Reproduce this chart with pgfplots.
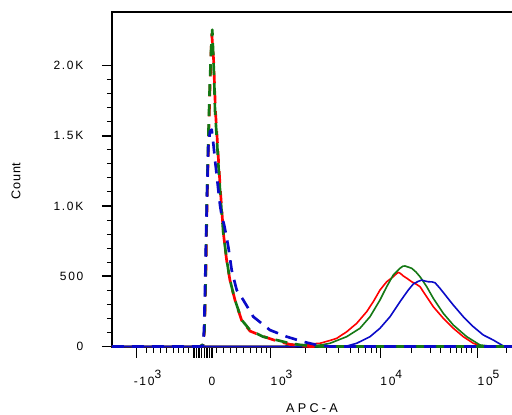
\documentclass[border=0pt]{standalone}
\usepackage{pgfplots}
\pgfplotsset{compat=1.18}
\usepackage{fontspec}
\setmainfont{Liberation Sans}
\newfontfamily\tickfont[LetterSpace=14]{Liberation Sans}
\newfontfamily\ylabfont[LetterSpace=6]{Liberation Sans}
\newfontfamily\xlabfont[LetterSpace=26]{Liberation Sans}
\definecolor{cred}{RGB}{255,0,0}
\definecolor{cgreen}{RGB}{20,120,20}
\definecolor{cblue}{RGB}{10,10,200}
\newcommand{\ex}[1]{\rlap{\raisebox{5.2pt}{#1}}}
\begin{document}
\begin{tikzpicture}
\useasboundingbox (-84pt,-50.625pt) rectangle (300pt,260.625pt);
\begin{axis}[
  x=0.75pt, y=0.105375pt,
  xmin=112, xmax=514, ymin=-7, ymax=2381,
  axis line style={line width=1pt},
  tick align=outside, xtick pos=bottom, ytick pos=left,
  major tick length=7.5pt, minor tick length=3.75pt,
  major tick style={line width=1.2pt, black},
  minor tick style={line width=0.7pt, black},
  xtick={136.7,194,196.5,199,201.5,204.5,207,209.5,212,270.7,380.5,477.7},
  xticklabels={-10\ex{3},,,,,0,,,,10\ex{3},10\ex{4},10\ex{5}},
  minor xtick={146.7,153,160,166.7,173,178,183,188,216.7,223,230,236.7,243,250,256.7,261.7,266,305,326.7,338,350,358,365,371,376,411.7,430,440,450,456.7,461.7,466.7,471,506},
  ytick={0,500,1000,1500,2000},
  yticklabels={0,500,1.0K,1.5K,2.0K},
  minor y tick num=4,
  ticklabel style={font=\tickfont\fontsize{9}{10}\selectfont},
  xticklabel style={anchor=base, xshift=5.6pt, yshift=-20.8pt},
  yticklabel style={anchor=east, xshift=-10.5pt},
  xlabel={APC-A}, ylabel={Count},
  xlabel style={at={(axis cs:312,-440)}, anchor=center, font=\xlabfont\fontsize{9.5}{11}\selectfont},
  ylabel style={at={(axis cs:16,1178)}, anchor=center, rotate=0, font=\ylabfont\fontsize{9.5}{11}\selectfont},
  dashedl/.style={line width=2pt, dash pattern=on 9pt off 6pt, line join=round},
  solidl/.style={line width=1.2pt, line join=round},
]
% solid (stained)
\addplot[solidl, cred] coordinates {(112,0)(295,0)(310,18)(320,23)(330,43)(336.7,58)(346.7,105)(356.7,165)(366.7,248)(373.3,319)(380,402)(386.7,461)(393.3,497)(396,515)(398.3,528)(400.5,520)(403.3,502)(407,485)(411.7,461)(416,445)(420,426)(426.7,354)(433.3,283)(443.3,201)(453.3,130)(463.3,70)(473.3,23)(483.3,0)(514,0)};
\addplot[solidl, cgreen] coordinates {(112,0)(285,0)(290,18)(300,10)(313,5)(322,12)(330,23)(346.7,70)(360,130)(370,212)(380,331)(386.7,426)(393.3,509)(400,557)(403,572)(405,573)(408,566)(411.7,557)(416,530)(420,497)(426.7,426)(433.3,343)(443.3,236)(453.3,153)(466.7,70)(480,11)(493.3,0)(514,0)};
\addplot[solidl, cblue] coordinates {(112,0)(340,0)(346.7,3)(356.7,23)(370,70)(380,130)(390,212)(400,319)(408.3,402)(413.3,445)(418,463)(421.7,473)(425,466)(428.3,461)(432,460)(435,454)(440,414)(446.7,354)(453.3,295)(463.3,212)(473.3,141)(483.3,82)(493.3,46)(503.3,4)(510,0)(514,0)};
% dashed (control)
\addplot[dashedl, cred] coordinates {(112,0)(200,0)(203,12)(204.5,110)(205.7,450)(207,990)(208.4,1420)(209.8,1790)(211,2080)(211.8,2225)(213.6,2040)(214.6,1850)(215.5,1670)(217.2,1480)(218.8,1290)(220.4,1110)(222,950)(223.5,800)(226.7,610)(230,470)(235,330)(241.7,185)(250,110)(263,72)(276.7,40)(290,15)(300,5)(310,0)(514,0)};
\addplot[dashedl, cgreen] coordinates {(112,0)(200,0)(203,15)(204.5,120)(205.5,430)(206.7,970)(208,1400)(209.5,1800)(211,2100)(212.3,2255)(213.3,2070)(214.3,1873)(215,1680)(216.7,1494)(218.3,1305)(220,1117)(221.7,953)(223.3,808)(226.7,616)(230,473)(235,331)(241.7,189)(250,117)(263,70)(276.7,46)(290,23)(300,12)(310,5)(320,0)(514,0)};
\addplot[dashedl, cblue] coordinates {(112,0)(201,0)(203,8)(204,117)(205,402)(206,758)(207,1078)(208.3,1420)(210,1530)(211.7,1544)(213.5,1434)(215,1327)(216.7,1221)(218.3,1114)(220,1007)(221.7,930)(224,870)(226,800)(228.3,710)(231.7,544)(236.7,402)(243.3,331)(253.3,212)(270,117)(286.7,70)(303.3,34)(316.7,11)(330,0)(514,0)};
\end{axis}
\end{tikzpicture}
\end{document}
